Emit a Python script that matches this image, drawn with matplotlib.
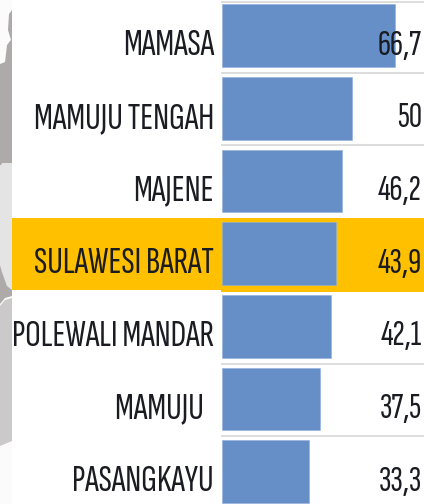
import matplotlib
matplotlib.use("Agg")
import matplotlib.pyplot as plt
from matplotlib.patches import Polygon, Rectangle

categories = ["MAMASA", "MAMUJU TENGAH", "MAJENE", "SULAWESI BARAT",
              "POLEWALI MANDAR", "MAMUJU  ", "PASANGKAYU"]
values = [66.7, 50, 46.2, 43.9, 42.1, 37.5, 33.3]
value_labels = ["66,7", "50", "46,2", "43,9", "42,1", "37,5", "33,3"]

W, H = 424, 504
fig = plt.figure(figsize=(W / 100, H / 100), dpi=100, facecolor="white")
FONT = ["Sofia Sans Extra Condensed", "Liberation Sans"]
TEXT = "#1a1c22"

# Backdrop in pixel coordinates: map strip, highlight band, row rules
bg = fig.add_axes([0, 0, 1, 1], zorder=0)
bg.set_xlim(0, W); bg.set_ylim(H, 0); bg.axis("off")
bg.add_patch(Rectangle((0, 0), 12, 504, fc="#fbfbfb", ec="none"))
bg.add_patch(Polygon([(12, 10), (9, 14), (8, 30), (11, 40), (10, 41), (7, 45), (5, 62), (0, 64),
                      (0, 166), (3, 163), (12, 163)], fc="#aeaaa9", ec="none"))
bg.add_patch(Polygon([(0, 166), (3, 163), (12, 163), (12, 290), (7, 286), (2, 272), (0, 265)],
                     fc="#e4e4e4", ec="none"))
bg.add_patch(Polygon([(0, 265), (2, 272), (7, 286), (12, 290), (12, 296), (5, 298), (0, 304)],
                     fc="#aeaaa9", ec="none"))
bg.add_patch(Polygon([(0, 306), (5, 300), (12, 298), (12, 441), (0, 446)],
                     fc="#cbc9c9", ec="none"))
bg.add_patch(Rectangle((12, 217.5), 209, 72.5, fc="#ffc000", ec="none"))
bg.add_patch(Rectangle((221, 217.5), 203, 74.5, fc="#ffc000", ec="none"))
for y in [2, 72.5, 145, 363.5, 436]:
    bg.add_patch(Rectangle((221, y - 1), 203, 2.2, fc="#dddddd", ec="none"))

# Bars on a real value scale: 2.6 px per unit, seven rows 72.65 px apart
ax = fig.add_axes([222 / W, 0, (W - 222) / W, 1], zorder=1)
ax.patch.set_alpha(0)
ax.set_xlim(0, (W - 222) / 2.6)
ax.set_ylim(6.447, -0.49)
ax.barh(range(len(values)), values, height=0.862, color="#658fc6", edgecolor="#8fb0dc", linewidth=0.4)
ax.axis("off")

for i, (c, lab) in enumerate(zip(categories, value_labels)):
    ax.annotate(c, (0, i), xytext=(-5.8, -7.3), textcoords="offset points", ha="right", va="center",
                fontsize=28, family=FONT, color=TEXT)
    ax.annotate(lab, (1, i), xycoords=("axes fraction", "data"), xytext=(-1.6, -7.3), textcoords="offset points",
                ha="right", va="center", fontsize=26.5, family=FONT, color=TEXT)

fig.savefig("out.png", dpi=100, facecolor="white")
